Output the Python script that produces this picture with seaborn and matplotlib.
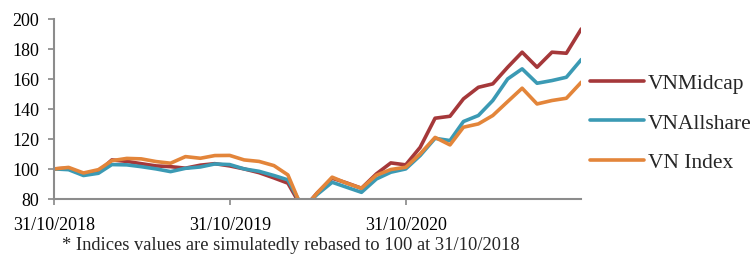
import pandas as pd
import matplotlib.pyplot as plt
import seaborn as sns

# Monthly values, rebased to 100 at 31/10/2018
dates = pd.date_range('2018-10-31', periods=37, freq='ME')

vn_midcap = [100, 100.5, 96.5, 98, 106, 105, 103.5, 102, 101.5, 100.5, 102.5, 103.5,
             102, 100, 97.5, 94, 90.5, 73, 84, 93.8, 90.7, 87.1, 96.7, 104, 102.7,
             114.4, 133.8, 135.1, 146.7, 154.4, 156.7, 167.8, 177.8, 167.8, 177.8, 177.1, 193.3]
vn_allshare = [100, 99.5, 95.6, 97.1, 102.9, 102.7, 101.5, 100, 98.2, 100.4, 101.3, 103.3,
               102.9, 100, 98.4, 95.6, 92.7, 74, 83, 91.1, 87.8, 84.4, 93.3, 97.8, 100,
               108.9, 120.4, 118.9, 131.6, 135.6, 145.6, 160, 166.7, 157.1, 158.9, 161.1, 172.9]
vn_index = [100, 101, 97.3, 99.5, 105.5, 107, 106.7, 104.9, 103.8, 108.2, 107.1, 108.9,
            109, 106, 105, 102.2, 96, 72.5, 84, 94.5, 90.5, 87.1, 95.8, 99.6, 101.1,
            110, 121, 116, 127.8, 130, 135.6, 144.9, 153.8, 143.3, 145.6, 147.1, 157.8]

series_names = ['VNMidcap', 'VNAllshare', 'VN Index']
colors = ['#A5383A', '#3B9AB4', '#E3853A']

df = pd.DataFrame({'date': list(dates) * 3,
                   'value': vn_midcap + vn_allshare + vn_index,
                   'series': [n for n in series_names for _ in range(len(dates))]})

sns.set_style('ticks')
plt.rcParams['font.family'] = ['Liberation Serif', 'DejaVu Serif']

fig = plt.figure(figsize=(7.52, 2.55), dpi=100)
ax = fig.add_axes([0.072, 0.216, 0.701, 0.706])

sns.lineplot(data=df, x='date', y='value', hue='series', hue_order=series_names,
             palette=colors, linewidth=2.6, ax=ax)

ax.set_ylim(80, 200)
ax.set_yticks(range(80, 201, 20))
ax.set_xlim(dates[0], dates[-1])
ax.set_xticks([dates[0], dates[12], dates[24]])
ax.set_xticklabels([d.strftime('%d/%m/%Y') for d in [dates[0], dates[12], dates[24]]])
ax.set_xlabel('')
ax.set_ylabel('')
ax.tick_params(labelsize=13, colors='#888888', labelcolor='black', length=4.3, width=1.2)
ax.tick_params(axis='x', pad=8)
ax.tick_params(axis='y', pad=6.5)
for s in ['top', 'right']:
    ax.spines[s].set_visible(False)
for s in ['left', 'bottom']:
    ax.spines[s].set_color('#8c8c8c')
    ax.spines[s].set_linewidth(1.5)

handles, labels = ax.get_legend_handles_labels()
ax.get_legend().remove()
leg = fig.legend(handles, labels, loc='center left', bbox_to_anchor=(590 / 752, 0.515),
                 frameon=False, fontsize=15.5, handlelength=2.5, labelspacing=0.91,
                 handletextpad=0.2, borderpad=0, borderaxespad=0)
for line in leg.get_lines():
    line.set_linewidth(2.6)

fig.text(0.387, 0.018, '* Indices values are simulatedly rebased to 100 at 31/10/2018',
         ha='center', va='baseline', fontsize=13.3)

fig.savefig('out.png', dpi=100)
